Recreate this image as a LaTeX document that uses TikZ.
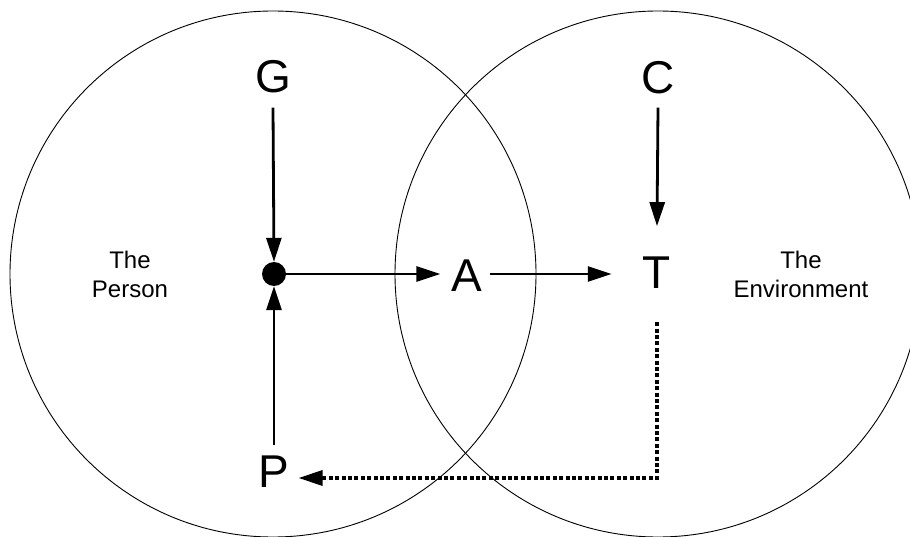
\documentclass[tikz,border=0pt]{standalone}
\usepackage{fontspec}
\setmainfont{Liberation Sans}
\usetikzlibrary{arrows.meta}
\begin{document}
\begin{tikzpicture}[x=1pt,y=1pt,
  ring/.style={draw=black,line width=0.9pt},
  letter/.style={anchor=base,inner sep=0pt,font=\fontsize{46}{46}\selectfont},
  label/.style={inner sep=0pt,align=center,font=\fontsize{24}{29}\selectfont},
  arr/.style={line width=2.8pt,-{Triangle[length=24pt,width=15pt]}},
  darr/.style={line width=3.2pt,dash pattern=on 4pt off 2.4pt,-{Triangle[length=24pt,width=15pt]}},
  joint/.style={circle,fill=black,inner sep=0pt,minimum size=24pt}]
\useasboundingbox (0,0) rectangle (910,536);
\draw[ring] (273,262) circle (263);
\draw[ring] (658,262) circle (263);
\node[letter] (G) at (273,443) {G};
\node[letter] (C) at (658,442) {C};
\node[letter] (A) at (467,244) {A};
\node[letter] (T) at (657,247) {T};
\node[letter] (P) at (274,49) {P};
\node[joint] (dot) at (274,262) {};
\node[label] (person) at (130,262) {The\\Person};
\node[label] (env) at (801,262) {The\\Environment};
\draw[arr] ([yshift=-14pt]G.south) -- (dot.north);
\draw[arr] ([yshift=10pt]P.north) -- (dot.south);
\draw[arr] (dot.east) -- ([xshift=-11pt]A.west |- dot.east);
\draw[arr] ([xshift=7pt]A.east |- dot.east) -- ([xshift=-31pt]T.west |- dot.east);
\draw[arr] ([yshift=-13pt]C.south) -- ([yshift=31pt]T.north);
\draw[darr] ([yshift=-33pt]T.south) |- ([xshift=9pt,yshift=9pt]P.base east);
\end{tikzpicture}
\end{document}
